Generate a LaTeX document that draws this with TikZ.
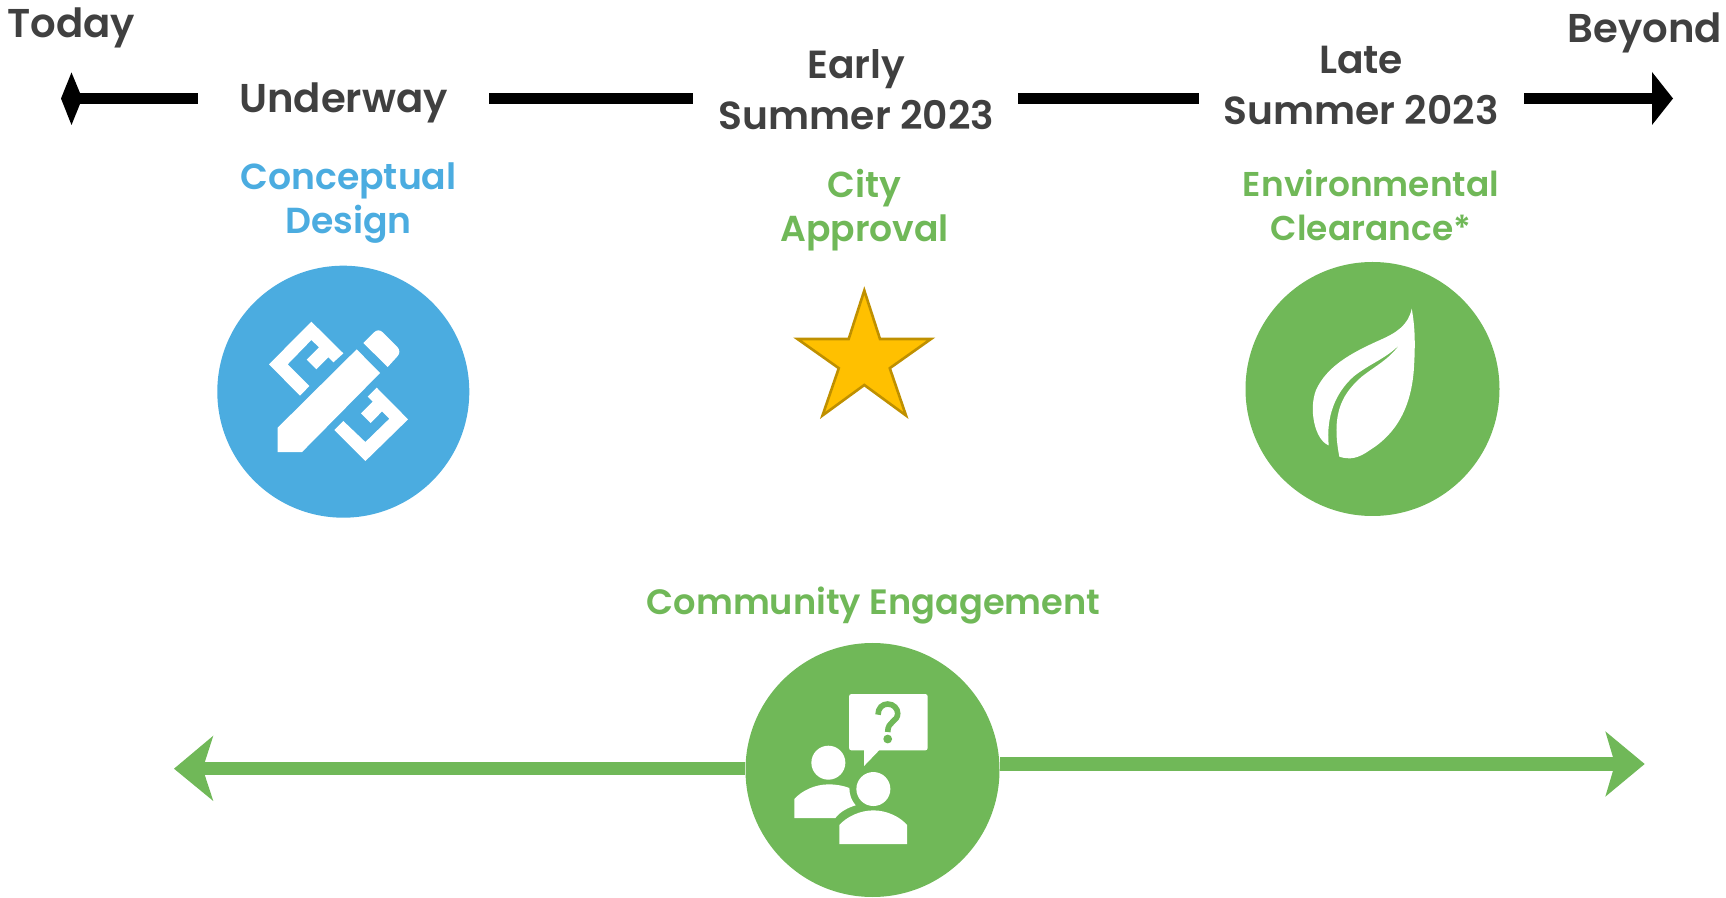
\documentclass[tikz,border=0pt]{standalone}
\usepackage{fontspec}
\setmainfont{Poppins}[BoldFont={Poppins SemiBold}]
\definecolor{txtgray}{HTML}{404040}
\definecolor{blueA}{HTML}{4BACE0}
\definecolor{greenA}{HTML}{70B858}
\definecolor{starfill}{HTML}{FFC000}
\definecolor{starline}{HTML}{BF9000}
\tikzset{
  x=0.5pt,y=-0.5pt,
  head/.style={font=\bfseries\fontsize{#1}{25.4}\selectfont,text=txtgray,align=center,inner sep=0pt},
  head/.default=20.1,
  sub/.style={font=\bfseries\fontsize{#1}{22}\selectfont,align=center,inner sep=0pt},
  bar/.style={line width=5.5pt,black},
  gbar/.style={line width=6.6pt,greenA},
  disc/.style={circle,minimum size=127pt,inner sep=0pt,fill=#1},
  ic/.style={fill=white,draw=none},
}
\begin{document}
\begin{tikzpicture}
\useasboundingbox (0,0) rectangle (1726,898);
% top labels
\node[head] (today) at (71,28) {Today};
\node[head] (beyond) at (1645,33) {Beyond};
\node[head] (under) at (343.5,103) {Underway};
\node[head=19.6] (early) at (856.5,90) {Early\\Summer 2023};
\node[head=19.6] (late) at (1361,85.5) {Late\\Summer 2023};
% top timeline
\coordinate (l0) at (78,98.8); \coordinate (l1) at (198,98.8);
\coordinate (m0) at (489,98.8); \coordinate (m1) at (693,98.8);
\coordinate (n0) at (1018,98.8); \coordinate (n1) at (1199,98.8);
\coordinate (r0) at (1524,98.8); \coordinate (r1) at (1655,98.8);
\draw[bar] (l0) -- (l1);
\draw[bar] (m0) -- (m1);
\draw[bar] (n0) -- (n1);
\draw[bar] (r0) -- (r1);
\fill (61,98.5) -- (71.5,72.5) -- (80,93) -- (80,104) -- (71.5,125) -- cycle;
\fill (1673,98.5) -- (1652,72) -- (1652,125) -- cycle;
% sub labels
\node[sub=18.1,text=blueA] (concept) at (348.5,203) {Conceptual\\Design};
\node[sub=18.05,text=greenA] (city) at (864.5,210) {City\\Approval};
\node[sub=17.2,text=greenA] (env) at (1371,205) {Environmental\\Clearance*};
\node[sub=17.6,text=greenA] (comm) at (873.5,606) {Community Engagement};
% discs
\node[disc=blueA,minimum size=126pt] (d1) at (343.3,391.7) {};
\node[disc=greenA] (d2) at (1372.5,389) {};
% green line arrows
\coordinate (gl) at (195,768.7);
\coordinate (gr) at (1625,764);
\node[disc=greenA] (d3) at (872.5,770) {};
\draw[gbar] (d3.west |- 0,768.7) -- (gl);
\draw[gbar] (d3.east |- 0,764) -- (gr);
\fill[greenA] (174,768.7) -- (213.3,735.7) -- (202.7,768.7) -- (213.3,801) -- cycle;
\fill[greenA] (1644.7,764) -- (1605.3,731.3) -- (1615,764) -- (1605.3,796.7) -- cycle;
% star
\draw[fill=starfill,draw=starline,line width=1.3pt,line join=miter]
 (864.3,290.5) -- (880,339) -- (931,339) -- (889.8,368.2) -- (906,415.5) -- (864.3,385) -- (822.5,415.5) -- (838.8,368.2) -- (797.5,339) -- (848.7,339) -- cycle;
% pencil & rulers icon (zoom coordinates /3 + offset)
\begin{scope}[shift={(200,250)},x=0.1667pt,y=-0.1667pt]
 \fill[ic] (233,533) -- (470,298) -- (540,369) -- (306,606) -- (233,606) -- cycle;
 \fill[ic] (490,279) -- (522,247) .. controls (530,239) and (540,239) .. (548,247) -- (592,291) .. controls (600,299) and (600,311) .. (592,319) -- (563,351) -- cycle;
 \fill[ic] (207,343) -- (334,215) -- (430,310) -- (400,337) -- (385,322) -- (349,358) -- (320,329) -- (357,292) -- (334,270) -- (263,343) -- (328,408) -- (300,437) -- cycle;
 \fill[ic] (624,508) -- (496,633) -- (403,540) -- (430,513) -- (496,576) -- (568,506) -- (546,484) -- (512,519) -- (483,490) -- (518,455) -- (503,440) -- (530,413) -- cycle;
\end{scope}
% leaf icon
\begin{scope}[shift={(1230,250)},x=0.1667pt,y=-0.1667pt]
 \fill[ic] (545,176) .. controls (535,225) and (500,248) .. (450,270) .. controls (360,310) and (290,350) .. (258,420) .. controls (235,480) and (255,570) .. (296,586) .. controls (288,500) and (315,430) .. (370,380) .. controls (420,340) and (470,325) .. (510,282) .. controls (475,330) and (440,345) .. (395,380) .. controls (345,425) and (300,480) .. (328,620) .. controls (360,630) and (385,625) .. (420,600) .. controls (500,550) and (545,470) .. (552,350) .. controls (556,280) and (555,230) .. (545,176) -- cycle;
\end{scope}
% people icon
\begin{scope}[shift={(730,630)},x=0.1667pt,y=-0.1667pt]
 \fill[ic,rounded corners=1.2pt] (357,192) rectangle (593,361);
 \fill[ic] (402,355) -- (402,408) -- (450,358) -- cycle;
 \fill[ic] (295,398) circle[radius=8.5pt];
 \fill[ic] (430,477) circle[radius=8.5pt];
 \fill[ic] (193,564) -- (193,507) .. controls (215,482) and (255,463) .. (295,463) .. controls (320,463) and (340,467) .. (358,474) .. controls (358,495) and (365,512) .. (377,526) .. controls (355,532) and (330,545) .. (316,564) -- cycle;
 \fill[ic] (328,642) -- (328,585) .. controls (350,560) and (390,541) .. (430,541) .. controls (470,541) and (510,560) .. (531,585) -- (531,642) -- cycle;
 \draw[greenA,line width=2.8pt] (444,254) .. controls (444,234) and (457,222) .. (473,222) .. controls (491,222) and (503,236) .. (503,250) .. controls (503,276) and (473,272) .. (473,306);
 \fill[greenA] (473,327) circle[radius=2.2pt];
\end{scope}
\end{tikzpicture}
\end{document}
